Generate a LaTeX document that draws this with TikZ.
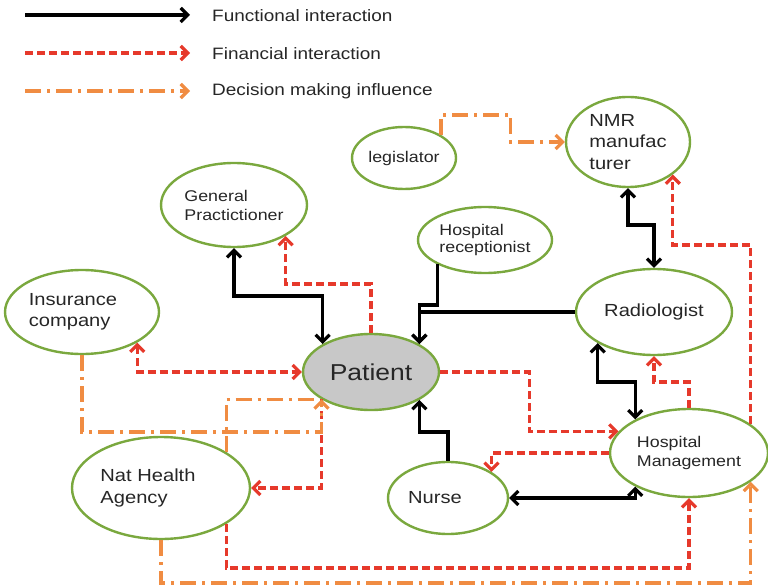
\documentclass[tikz,border=0pt]{standalone}
\usepackage{fontspec}
\setmainfont[FakeStretch=1.15]{Liberation Sans}
\usetikzlibrary{shapes.geometric,arrows.meta}
\definecolor{nodegreen}{RGB}{122,168,62}
\definecolor{finred}{RGB}{230,57,43}
\definecolor{decorange}{RGB}{240,140,66}
\definecolor{patgray}{RGB}{200,200,200}

\begin{document}
\begin{tikzpicture}[x=1pt,y=-1pt,>={Straight Barb[length=7pt,width=14pt]},
  ell/.style={draw=nodegreen,line width=2.4pt,ellipse,inner sep=0pt,align=left,text=black!85,font=\fontsize{17.5}{21.5}\selectfont},
  small/.style={font=\fontsize{15.5}{19}\selectfont},
  legtext/.style={anchor=west,inner sep=0pt,text=black!85,font=\fontsize{16.5}{20}\selectfont},
  func/.style={line width=3.2pt,black},
  fin/.style={line width=3.2pt,finred,dash pattern=on 8pt off 4pt},
  dec/.style={line width=3.2pt,decorange,dash pattern=on 16pt off 6pt on 3pt off 6pt}]
\useasboundingbox (0,0) rectangle (768,588);

% legend
\coordinate (funcA) at (25,15);
\coordinate (funcB) at (190,15);
\coordinate (finA) at (25,53);
\coordinate (finB) at (190,53);
\coordinate (decA) at (25,91);
\coordinate (decB) at (190,91);
\draw[func,->] (funcA) -- (funcB);
\draw[fin,->] (finA) -- (finB);
\draw[dec,->] (decA) -- (decB);
\node[legtext] (funcT) at (212,16) {Functional interaction};
\node[legtext] (finT) at (212,54) {Financial interaction};
\node[legtext] (decT) at (212,91) {Decision making influence};

% actors
\node[ell,small,minimum width=104,minimum height=62] (legis) at (404,158) {legislator};
\node[ell,minimum width=124,minimum height=90] (nmr) at (628,142) {NMR\\manufac\\turer};
\node[ell,small,minimum width=146,minimum height=84] (gp) at (234,205) {General\\Practictioner};
\node[ell,small,minimum width=134,minimum height=66,font=\fontsize{15.5}{17}\selectfont] (recep) at (485,240) {Hospital\\receptionist};
\node[ell,minimum width=154,minimum height=84] (insur) at (82,312) {Insurance\hspace*{18pt}\\company};
\node[ell,fill=patgray,minimum width=136,minimum height=76,font=\fontsize{23}{27}\selectfont] (patient) at (371,372) {Patient};
\node[ell,minimum width=156,minimum height=86] (radio) at (654,312) {Radiologist};
\node[ell,small,minimum width=158,minimum height=88] (hosp) at (689,453) {Hospital\\Management};
\node[ell,minimum width=120,minimum height=72] (nurse) at (448,498) {Nurse\hspace*{26pt}};
\node[ell,minimum width=178,minimum height=102] (nha) at (161,488) {Nat Health\hspace*{26pt}\\Agency};

% functional
\draw[func,<->] (gp.south) -- (gp.south |- 0,296) -| (patient.150);
\draw[func,->] (recep.-153) -- (recep.-153 |- 0,305) -| (patient.30);
\draw[func,->] (radio.west) -| (patient.30);
\draw[func,<->] (nmr.south) -- (nmr.south |- 0,225) -| (radio.north);
\draw[func,<->] (radio.-151) -- (radio.-151 |- 0,382) -| (hosp.148);
\draw[func,<->] (nurse.east) -| (hosp.-148);
\draw[func,->] (nurse.north) -- (nurse.north |- 0,432) -| (patient.-30);

% financial
\draw[fin,->] (patient.north) -- (patient.north |- 0,284) -| (gp.-31);
\draw[fin,<->] (insur.-29) |- (patient.west);
\draw[fin,->] (patient.east) -- ++(89,0) |- (hosp.163);
\draw[fin,->] (patient.-151) |- (nha.east);
\draw[fin,->] (hosp.west) -| (nurse.31);
\draw[fin,->] (hosp.north) -- (hosp.north |- 0,382) -| (radio.south);
\draw[fin,->] (hosp.25) -- (hosp.25 |- 0,245) -| (nmr.-36);
\draw[fin,->] (nha.-29) -- (nha.-29 |- 0,568) -| (hosp.south);

% decision
\draw[dec,->] (legis.32) -- (legis.32 |- 0,115) -| ([xshift=-54pt]nmr.west) -- (nmr.west);
\draw[dec,->] (insur.south) -- (insur.south |- 0,432) -| (patient.-151);
\draw[dec] (nha.29) |- ([xshift=-4pt]patient.-151);
\draw[dec,->] (nha.south) -- (nha.south |- 0,583) -| (hosp.-25);
\end{tikzpicture}
\end{document}
